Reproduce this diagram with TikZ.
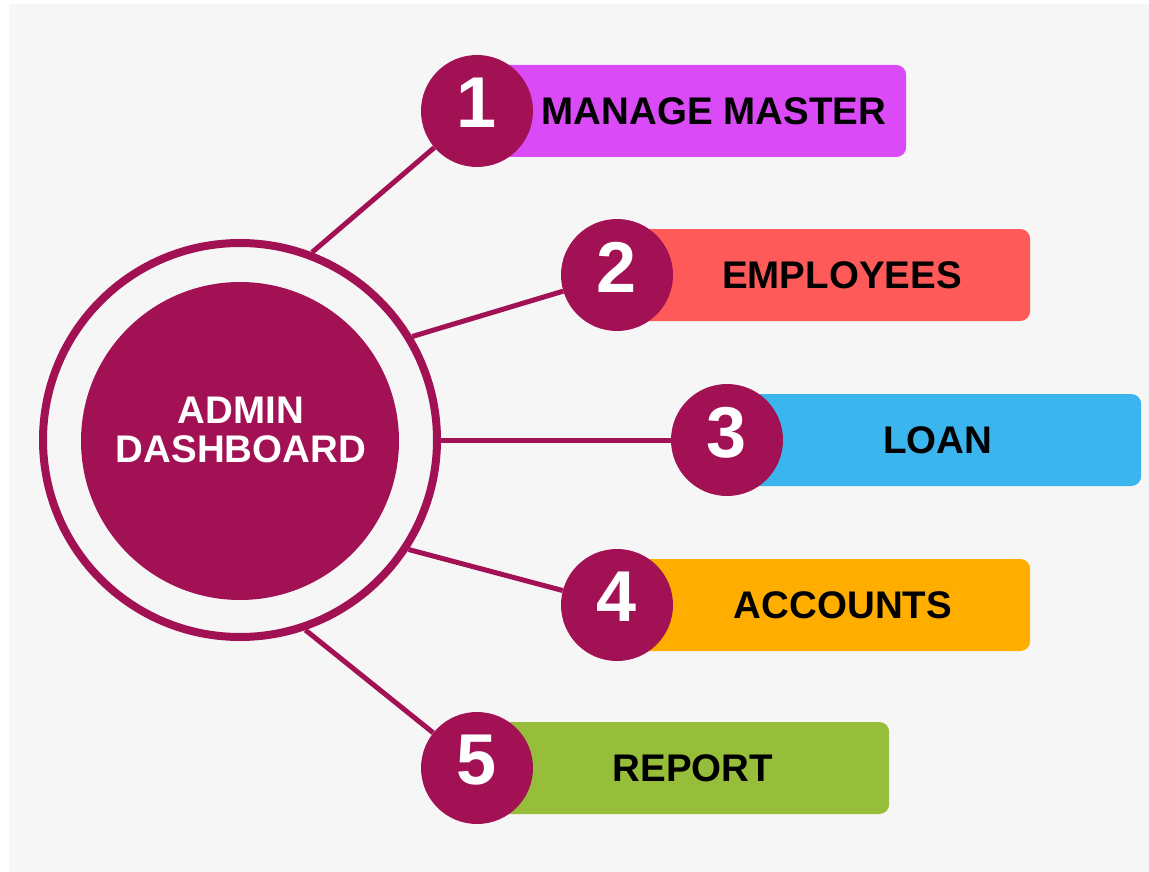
\documentclass[tikz,border=0pt]{standalone}
\usepackage{fontspec}
\setmainfont{Liberation Sans}
\definecolor{plum}{HTML}{A31155}
\definecolor{paper}{HTML}{F6F6F6}
\definecolor{violet1}{HTML}{DA4BF7}
\definecolor{coral1}{HTML}{FF5A5A}
\definecolor{sky1}{HTML}{3BB5EE}
\definecolor{amber1}{HTML}{FFAE00}
\definecolor{lime1}{HTML}{96BE3A}
\begin{document}
\begin{tikzpicture}[x=1pt,y=-1pt,
  ring/.style={circle, draw=plum, line width=8pt, minimum size=394pt, inner sep=0pt},
  core/.style={circle, fill=plum, minimum size=318pt, inner sep=0pt},
  badge/.style={circle, fill=plum, minimum size=112pt, inner sep=0pt, text=white,
    text depth=16pt, font=\bfseries\fontsize{72}{72}\selectfont},
  tab/.style={rounded corners=10pt, fill=#1, minimum height=92pt, inner sep=0pt, anchor=west},
  caption/.style={font=\bfseries\fontsize{38.5}{38.5}\selectfont},
  link/.style={draw=plum, line width=5pt}]
\useasboundingbox (0,0) rectangle (1149,872);
\fill[white] (0,0) rectangle (1149,872);
\fill[paper] (9,4) rectangle (1149,872);
% hub
\node[ring] (hub) at (240,440){};
\node[core] (core) at (240,441){};
\node[caption, text=white, align=center] (title) at (241,430){ADMIN\\DASHBOARD};
% tabs behind the badges
\node[tab=violet1, minimum width=429pt] (tab1) at (477,111){};
\node[tab=coral1, minimum width=413pt] (tab2) at (617,275){};
\node[tab=sky1, minimum width=414pt] (tab3) at (727,440){};
\node[tab=amber1, minimum width=413pt] (tab4) at (617,605){};
\node[tab=lime1, minimum width=412pt] (tab5) at (477,768){};
% badges
\node[badge] (num1) at (477,111){1};
\draw[link](hub.69) -- (num1);
\node[caption] (lbl1) at (714,111){MANAGE MASTER};
\node[badge] (num2) at (617,275){2};
\draw[link](hub.31) -- (num2);
\node[caption] (lbl2) at (842,275){EMPLOYEES};
\node[badge] (num3) at (727,440){3};
\draw[link](hub.0) -- (num3);
\node[caption] (lbl3) at (938,440){LOAN};
\node[badge] (num4) at (617,605){4};
\draw[link](hub.-33) -- (num4);
\node[caption] (lbl4) at (843,605){ACCOUNTS};
\node[badge] (num5) at (477,768){5};
\draw[link](hub.-71) -- (num5);
\node[caption] (lbl5) at (693,768){REPORT};
\end{tikzpicture}
\end{document}
